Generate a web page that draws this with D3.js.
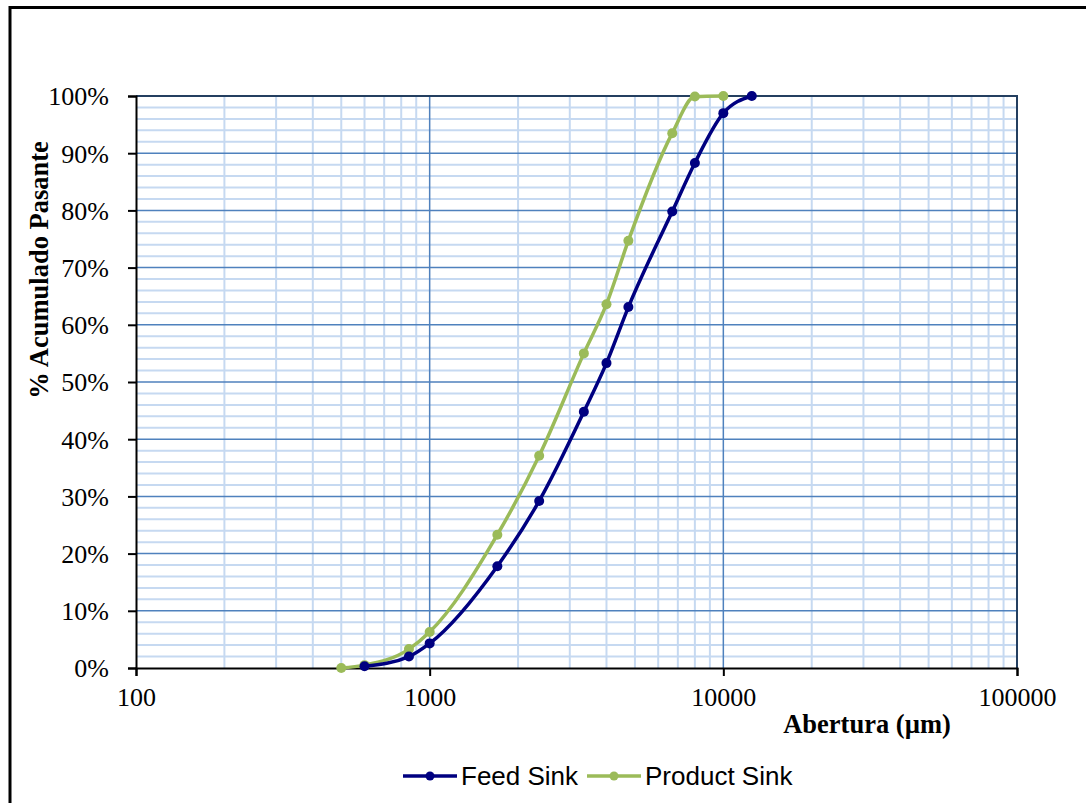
<!DOCTYPE html>
<html><head><meta charset="utf-8">
<script src="https://cdn.jsdelivr.net/npm/d3@7"></script>
<style>body{margin:0;background:#fff}svg{display:block}</style>
</head><body><svg id="c" width="1086" height="803"></svg>
<script>
const feedX = [600, 850, 1000, 1700, 2360, 3350, 4000, 4750, 6700, 8000, 10000, 12500];
const feedY = [0.3, 2.0, 4.3, 17.8, 29.2, 44.8, 53.3, 63.1, 79.8, 88.3, 97.0, 100];
const prodX = [500, 600, 850, 1000, 1700, 2360, 3350, 4000, 4750, 6700, 8000, 10000];
const prodY = [0, 0.5, 3.3, 6.3, 23.3, 37.1, 55.0, 63.6, 74.7, 93.5, 99.9, 100];
const seriesNames = ["Feed Sink", "Product Sink"];
const xTicks = [100, 1000, 10000, 100000];
const yTicks = [0, 10, 20, 30, 40, 50, 60, 70, 80, 90, 100];

const svg = d3.select("#c");
const L = 136, R = 1017, T = 96, B = 668;
const x = d3.scaleLog().domain([100, 100000]).range([L, R]);
const y = d3.scaleLinear().domain([0, 100]).range([B, T]);

// outer frame
svg.append("line").attr("x1", 10).attr("x2", 1086).attr("y1", 7.5).attr("y2", 7.5).attr("stroke", "#000").attr("stroke-width", 3);
svg.append("line").attr("x1", 10).attr("x2", 10).attr("y1", 6).attr("y2", 803).attr("stroke", "#000").attr("stroke-width", 3);

const g = svg.append("g");
// minor grid
const minorX = [];
for (let d = 100; d < 100000; d *= 10) for (let k = 2; k <= 9; k++) minorX.push(d * k);
const minorY = d3.range(0, 101, 2).filter(v => v % 10 !== 0);
g.selectAll(".mx").data(minorX).join("line").attr("x1", d => x(d)).attr("x2", d => x(d)).attr("y1", T).attr("y2", B).attr("stroke", "#c6d9f1").attr("stroke-width", 2);
g.selectAll(".my").data(minorY).join("line").attr("x1", L).attr("x2", R).attr("y1", d => y(d)).attr("y2", d => y(d)).attr("stroke", "#c6d9f1").attr("stroke-width", 2);
// major grid
g.selectAll(".Mx").data(xTicks.slice(1, 3)).join("line").attr("x1", d => x(d)).attr("x2", d => x(d)).attr("y1", T).attr("y2", B).attr("stroke", "#4f81bd").attr("stroke-width", 1.5);
g.selectAll(".My").data(yTicks.slice(1, 10)).join("line").attr("x1", L).attr("x2", R).attr("y1", d => y(d)).attr("y2", d => y(d)).attr("stroke", "#4f81bd").attr("stroke-width", 1.5);
// plot border top/right
g.append("line").attr("x1", L).attr("x2", R + 1).attr("y1", T).attr("y2", T).attr("stroke", "#243f60").attr("stroke-width", 2);
g.append("line").attr("x1", R).attr("x2", R).attr("y1", T).attr("y2", B).attr("stroke", "#243f60").attr("stroke-width", 2);

// axes
const yAxis = d3.axisLeft(y).tickValues(yTicks).tickSize(8).tickFormat(d => d + "%");
const xAxis = d3.axisBottom(x).tickValues(xTicks).tickSize(8).tickFormat(d3.format("d"));
const ya = svg.append("g").attr("transform", `translate(${L},0)`).call(yAxis);
const xa = svg.append("g").attr("transform", `translate(0,${B})`).call(xAxis);
[ya, xa].forEach(a => {
  a.select(".domain").attr("stroke", "#000").attr("stroke-width", 2);
  a.selectAll(".tick line").attr("stroke", "#000").attr("stroke-width", 2);
  a.selectAll("text").attr("font-family", "Liberation Serif, Times New Roman, serif").attr("font-size", 26).attr("fill", "#000");
});
ya.selectAll("text").attr("x", -27).attr("dy", "0.34em");
xa.selectAll("text").attr("y", 20);

// series
const line = d3.line().x(d => x(d[0])).y(d => y(d[1])).curve(d3.curveMonotoneX);
const series = [
  { name: seriesNames[0], color: "#000080", pts: d3.zip(feedX, feedY) },
  { name: seriesNames[1], color: "#9bbb59", pts: d3.zip(prodX, prodY) }
];
series.slice().reverse().forEach(s => {
  svg.append("path").datum(s.pts).attr("d", line).attr("fill", "none").attr("stroke", s.color).attr("stroke-width", 3.5).attr("stroke-linejoin", "round");
  svg.selectAll(null).data(s.pts).join("circle").attr("cx", d => x(d[0])).attr("cy", d => y(d[1])).attr("r", 5).attr("fill", s.color);
});

// titles
svg.append("text").attr("x", 867).attr("y", 733).attr("text-anchor", "middle").attr("font-family", "Liberation Serif, Times New Roman, serif").attr("font-weight", "bold").attr("font-size", 26.5).text("Abertura (µm)");
svg.append("text").attr("transform", "translate(48,270) rotate(-90)").attr("text-anchor", "middle").attr("font-family", "Liberation Serif, Times New Roman, serif").attr("font-weight", "bold").attr("font-size", 26.5).text("% Acumulado Pasante");

// legend
const legX = [403, 587];
series.forEach((s, i) => {
  const lg = svg.append("g").attr("transform", `translate(${legX[i]},776)`);
  lg.append("line").attr("x1", 0).attr("x2", 54).attr("stroke", s.color).attr("stroke-width", 3.5);
  lg.append("circle").attr("cx", 27).attr("r", 4.5).attr("fill", s.color);
  lg.append("text").attr("x", 58).attr("dy", "0.35em").attr("font-family", "Liberation Sans, Arial, sans-serif").attr("font-size", 26).text(s.name);
});
</script></body></html>
